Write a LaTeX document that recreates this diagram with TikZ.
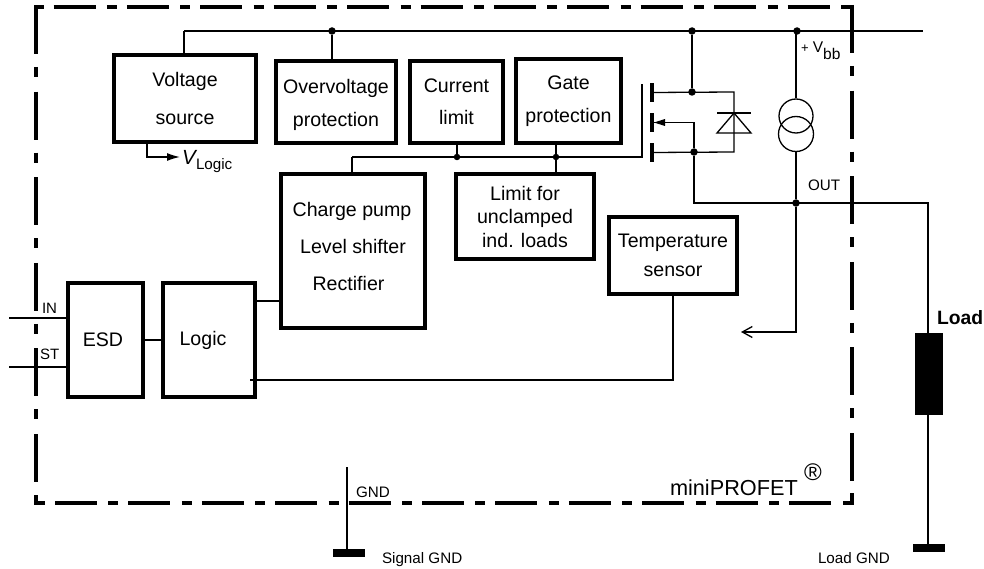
\documentclass[tikz,border=0pt]{standalone}
\usepackage{fontspec}
\setmainfont{Liberation Sans}
\usetikzlibrary{arrows.meta}
\newcommand{\fs}[2]{\fontsize{#1}{#2}\selectfont}
\tikzset{
  wire/.style={draw=black,line width=1.3pt},
  heavy/.style={draw=black,line width=3.6pt,line cap=butt},
  boxn/.style={draw=black,line width=3.6pt,rectangle,inner sep=0pt,outer sep=0pt,align=center,font=\fs{19.6}{23.5}},
  dotn/.style={circle,fill=black,inner sep=0pt,outer sep=0pt,minimum size=7.5pt},
  barn/.style={rectangle,fill=black,inner sep=0pt,outer sep=0pt},
  lab/.style={inner sep=0pt,outer sep=0pt,anchor=base west,font=\fs{15.2}{18}},
  ring/.style={circle,draw=black,line width=1.3pt,inner sep=0pt,outer sep=0pt,minimum size=34pt},
}
\begin{document}
\begin{tikzpicture}[x=1pt,y=-1pt]
\useasboundingbox (0,0) rectangle (984,569);
% package outline
\draw[heavy,dash pattern=on 42pt off 11.4pt on 10pt off 10pt] (53.5,7) -- (831,7);
\draw[heavy,dash pattern=on 42pt off 11.4pt on 10pt off 10pt] (55,503) -- (832,503);
\draw[heavy,dash pattern=on 48pt off 13pt on 10pt off 14.6pt] (36,6) -- (36,482);
\draw[heavy,dash pattern=on 48pt off 13pt on 10pt off 14.6pt] (852,5) -- (852,482);
\draw[heavy] (43.5,7) -- (34.2,7);
\draw[heavy] (841,7) -- (853.8,7);
\draw[heavy] (36,495) -- (36,504.8);
\draw[heavy] (34.2,503) -- (45,503);
\draw[heavy] (852,493) -- (852,504.8);
\draw[heavy] (843,503) -- (853.8,503);
% blocks
\node[boxn,minimum width=142.4pt,minimum height=87.4pt] (vs) at (185,98.5) {Voltage\\[14.5pt]source};
\node[boxn,minimum width=120.4pt,minimum height=82.4pt] (ov) at (336,102) {\rule{0pt}{20pt}Overvoltage\\[9.5pt]protection};
\node[boxn,minimum width=93.4pt,minimum height=82.4pt] (cl) at (456.5,102) {Current\\[8.5pt]limit};
\node[boxn,minimum width=105.4pt,minimum height=84.4pt] (gp) at (568.5,101) {Gate\\[10pt]protection};
\node[boxn,minimum width=144.4pt,minimum height=154.4pt] (cp) at (353,251) {Charge pump\hspace*{2pt}\mbox{}\\[13.5pt]Level shifter\\[13.5pt]Rectifier\hspace*{9pt}\mbox{}\\[-15pt]\mbox{}};
\node[boxn,minimum width=138.4pt,minimum height=85.4pt] (lim) at (525,216.5) {Limit for\\unclamped\\ind. loads};
\node[boxn,minimum width=128.4pt,minimum height=77.4pt] (ts) at (673,255.5) {Temperature\\[5.5pt]sensor};
\node[boxn,minimum width=75.4pt,minimum height=114.4pt] (esd) at (105.5,340) {\hspace*{-5pt}ESD};
\node[boxn,minimum width=92.4pt,minimum height=114.4pt] (logic) at (209,340) {\hspace*{-12pt}Logic};
\node[barn,minimum width=28pt,minimum height=82pt] (load) at (929,374) {};
\node[barn,minimum width=32pt,minimum height=8pt] (lgnd) at (929,548) {};
\node[barn,minimum width=32pt,minimum height=8pt] (sgnd) at (349,553) {};
% FET gate bars
\node[barn,minimum width=3.6pt,minimum height=19pt] (drn) at (652,92.5) {};
\node[barn,minimum width=3.6pt,minimum height=19pt] (bdy) at (652,122.5) {};
\node[barn,minimum width=3.6pt,minimum height=19pt] (src) at (652,152.5) {};
% junctions
\node[dotn] (j1) at (332,31) {};
\node[dotn] (j2) at (692,31) {};
\node[dotn] (j3) at (797,31) {};
\node[dotn] (j4) at (692,92) {};
\node[dotn] (j5) at (694,152) {};
\node[dotn] (j6) at (796,203) {};
\node[dotn,minimum size=6.5pt] (j7) at (457,157) {};
\node[dotn,minimum size=6.5pt] (j8) at (556,157) {};
% free ends
\coordinate (busS) at (184,31);
\coordinate (busE) at (923,31);
\coordinate (outE) at (928,203);
\coordinate (gateT) at (642,84);
\coordinate (gateC) at (642,157);
\coordinate (busW) at (352,157);
\coordinate (inS) at (9,318);
\coordinate (stS) at (9,367);
\coordinate (vlS) at (147,144);
\coordinate (vlE) at (180,157);
\coordinate (logL) at (250,380);
\coordinate (gndT) at (347,467);
\coordinate (retE) at (741,332);
% wires
\draw[wire] (busS) -- (busE);
\draw[wire] (busS) -- (busS |- vs.north);
\draw[wire] (j1) -- (j1 |- ov.north);
\draw[wire] (j2) -- (j4);
\draw[wire] (j3) ++(-1,0) -- ++(0,67);
\draw[wire] (bdy.center) -- (694,122.5) -- (j5) -- (694,203) -- (outE) -- (load.north -| outE);
\draw[wire] (outE |- load.south) -- (outE |- lgnd.north);
\draw[wire] (drn) -- (734,92) -- (734,152) -- (src);
\draw[wire] (busW) -- (gateC) -- (gateT);
\draw[wire] (busW) -- (busW |- cp.north);
\draw[wire] (j7) -- (j7 |- cl.south);
\draw[wire] (j8 |- gp.south) -- (j8 |- lim.north);
\draw[wire] (inS) -- (inS -| esd.west);
\draw[wire] (stS) -- (stS -| esd.west);
\draw[wire] (esd.east) -- (logic.west);
\draw[wire] (logic.east |- 0,301) -- (cp.west |- 0,301);
\draw[wire] (logL) -- (ts.south |- logL) -- (ts.south);
\draw[wire] (gndT) -- (gndT |- sgnd.north);
% current source
\node[ring] (r1) at (796,116) {};
\node[ring,minimum size=35pt] (r2) at (796,134) {};
\draw[wire] (r2.south) -- (j6);
\draw[wire,-{Straight Barb[length=10pt,width=11pt,line width=1.3pt]}] (j6) |- (retE);
% body arrow
\fill (654,122.5) -- (665,119) -- (665,126) -- cycle;
% diode
\draw[wire] (717,113) -- (751,113);
\draw[wire] (734,113) -- (717,133) -- (751,133) -- cycle;
% V logic
\draw[wire,-{Latex[length=13pt,width=8pt]}] (vlS) |- (vlE);
% labels
\node[lab,font=\fs{15}{18}] (tin) at (42,313.5) {IN};
\node[lab,font=\fs{15}{18}] (tst) at (40,359) {ST};
\node[lab] (tgnd) at (356,497.5) {GND};
\node[lab] (tsg) at (382,563.5) {Signal GND};
\node[lab] (tlg) at (818,563.5) {Load GND};
\node[lab] (tout) at (808,190.5) {OUT};
\node[lab,font=\fs{15.5}{18}] (tvbb) at (801,53) {{\fs{13}{18}+} V\raisebox{-7pt}{bb}};
\node[lab,font=\bfseries\fs{19.3}{23}] (tload) at (937,324) {Load};
\node[lab,font=\fs{21.7}{26}] (tprof) at (670,495) {miniPROFET};
\node[lab,font=\fs{24}{26}] (treg) at (804,480.5) {®};
\node[lab,font=\itshape\fs{20.5}{24}] (tv) at (182,165) {V};
\node[lab,font=\fs{15.2}{18}] (tvl) at (196,170) {Logic};
\end{tikzpicture}
\end{document}
